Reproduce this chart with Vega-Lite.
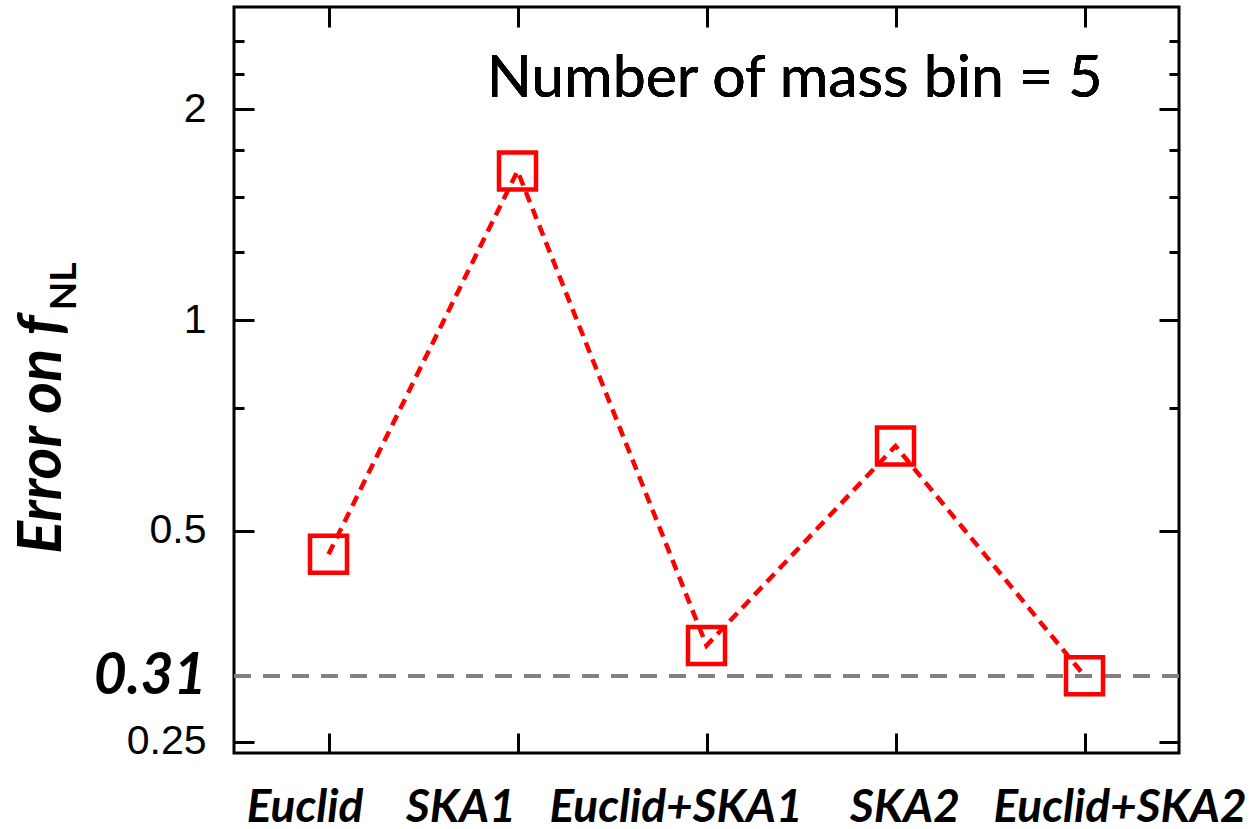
{
  "$schema": "https://vega.github.io/schema/vega-lite/v6.json",
  "width": 945,
  "height": 746,
  "autosize": {"type": "none"},
  "padding": {"left": 234, "top": 7, "right": 80, "bottom": 76},
  "background": "white",
  "config": {"view": {"stroke": "black", "strokeWidth": 3}},
  "data": {"values": [
    {"survey": "Euclid", "error": 0.463},
    {"survey": "SKA1", "error": 1.633},
    {"survey": "Euclid+SKA1", "error": 0.343},
    {"survey": "SKA2", "error": 0.661},
    {"survey": "Euclid+SKA2", "error": 0.3105}
  ]},
  "resolve": {"scale": {"x": "shared", "y": "shared"}, "axis": {"x": "independent", "y": "independent"}},
  "layer": [
    {
      "mark": {"type": "rule", "color": "#808080", "strokeWidth": 3.5, "strokeDash": [17, 12]},
      "encoding": {
        "y": {"datum": 0.31, "type": "quantitative",
          "scale": {"type": "log", "domain": [0.2409, 2.8], "nice": false, "zero": false},
          "axis": {"orient": "right", "values": [0.25, 0.5, 1, 2], "tickSize": -20, "tickWidth": 3, "tickColor": "black", "labels": false, "domain": false, "grid": false, "title": null}}
      }
    },
    {
      "mark": {"type": "line", "color": "#ff0000", "strokeWidth": 4.5, "strokeDash": [11, 7]},
      "encoding": {
        "x": {"field": "survey", "type": "nominal", "sort": null,
          "scale": {"type": "point", "padding": 0.5, "domain": ["Euclid", "SKA1", "Euclid+SKA1", "SKA2", "Euclid+SKA2"]},
          "axis": {"orient": "bottom", "tickSize": -20, "tickWidth": 3, "tickColor": "black", "domain": false, "grid": false, "title": null,
            "labelAngle": 0, "labelFont": "Lato", "labelFontSize": 46, "labelFontWeight": "bold", "labelFontStyle": "italic", "labelColor": "black",
            "labelPadding": 52, "labelBaseline": "top", "labelOverlap": false, "labelFlush": false, "labelLimit": 0,
            "labelOffset": {"condition": [
              {"test": "datum.value == 'Euclid'", "value": -24},
              {"test": "datum.value == 'SKA1'", "value": -57},
              {"test": "datum.value == 'Euclid+SKA1'", "value": -31},
              {"test": "datum.value == 'SKA2'", "value": 9},
              {"test": "datum.value == 'Euclid+SKA2'", "value": 35}
            ], "value": 0}}},
        "y": {"field": "error", "type": "quantitative",
          "scale": {"type": "log", "domain": [0.2409, 2.8], "nice": false, "zero": false},
          "axis": {"orient": "left", "values": [0.25, 0.31, 0.5, 1, 2], "format": "~g", "tickSize": -20, "tickWidth": 3, "tickColor": "black",
            "tickOpacity": {"condition": {"test": "datum.value == 0.31", "value": 0}, "value": 1},
            "domain": false, "grid": false, "labelPadding": 48, "labelOverlap": false, "labelFlush": false, "labelColor": "black",
            "labelFont": {"condition": {"test": "datum.value == 0.31", "value": "Lato"}, "value": "Liberation Sans"},
            "labelFontSize": {"condition": {"test": "datum.value == 0.31", "value": 57}, "value": 41},
            "labelFontWeight": {"condition": {"test": "datum.value == 0.31", "value": "bold"}, "value": "normal"},
            "labelFontStyle": {"condition": {"test": "datum.value == 0.31", "value": "italic"}, "value": "normal"},
            "title": "Error on f", "titleFont": "Lato", "titleFontSize": 61, "titleFontWeight": "bold", "titleFontStyle": "italic", "titleColor": "black",
            "titleAngle": -90, "titleX": -174, "titleY": 427, "titleAlign": "center", "titleBaseline": "alphabetic"}}
      }
    },
    {
      "mark": {"type": "point", "shape": "square", "filled": false, "stroke": "#ff0000", "strokeWidth": 4.5, "size": 1369, "opacity": 1},
      "encoding": {
        "x": {"field": "survey", "type": "nominal", "sort": null,
          "scale": {"type": "point", "padding": 0.5, "domain": ["Euclid", "SKA1", "Euclid+SKA1", "SKA2", "Euclid+SKA2"]},
          "axis": {"orient": "top", "tickSize": -20, "tickWidth": 3, "tickColor": "black", "labels": false, "domain": false, "grid": false, "title": null}},
        "y": {"field": "error", "type": "quantitative",
          "scale": {"type": "log", "domain": [0.2409, 2.8], "nice": false, "zero": false},
          "axis": {"orient": "left", "values": [0.75, 1.25, 1.5, 1.75, 2.25, 2.5], "tickSize": -10, "tickWidth": 3, "tickColor": "black", "labels": false, "domain": false, "grid": false,
            "title": "NL", "titleFont": "Lato", "titleFontSize": 37, "titleFontWeight": "bold", "titleFontStyle": "normal", "titleColor": "black",
            "titleAngle": -90, "titleX": -159, "titleY": 279, "titleAlign": "center", "titleBaseline": "alphabetic"}}
      }
    },
    {
      "mark": {"type": "text", "text": "Number of mass bin = 5", "font": "Lato", "fontSize": 59, "align": "right", "baseline": "alphabetic", "dx": 18, "color": "black"},
      "encoding": {
        "x": {"datum": "Euclid+SKA2", "type": "nominal",
          "scale": {"type": "point", "padding": 0.5, "domain": ["Euclid", "SKA1", "Euclid+SKA1", "SKA2", "Euclid+SKA2"]},
          "axis": null},
        "y": {"datum": 2.085, "type": "quantitative",
          "scale": {"type": "log", "domain": [0.2409, 2.8], "nice": false, "zero": false},
          "axis": {"orient": "right", "values": [0.75, 1.25, 1.5, 1.75, 2.25, 2.5], "tickSize": -10, "tickWidth": 3, "tickColor": "black", "labels": false, "domain": false, "grid": false, "title": null}}
      }
    }
  ]
}
